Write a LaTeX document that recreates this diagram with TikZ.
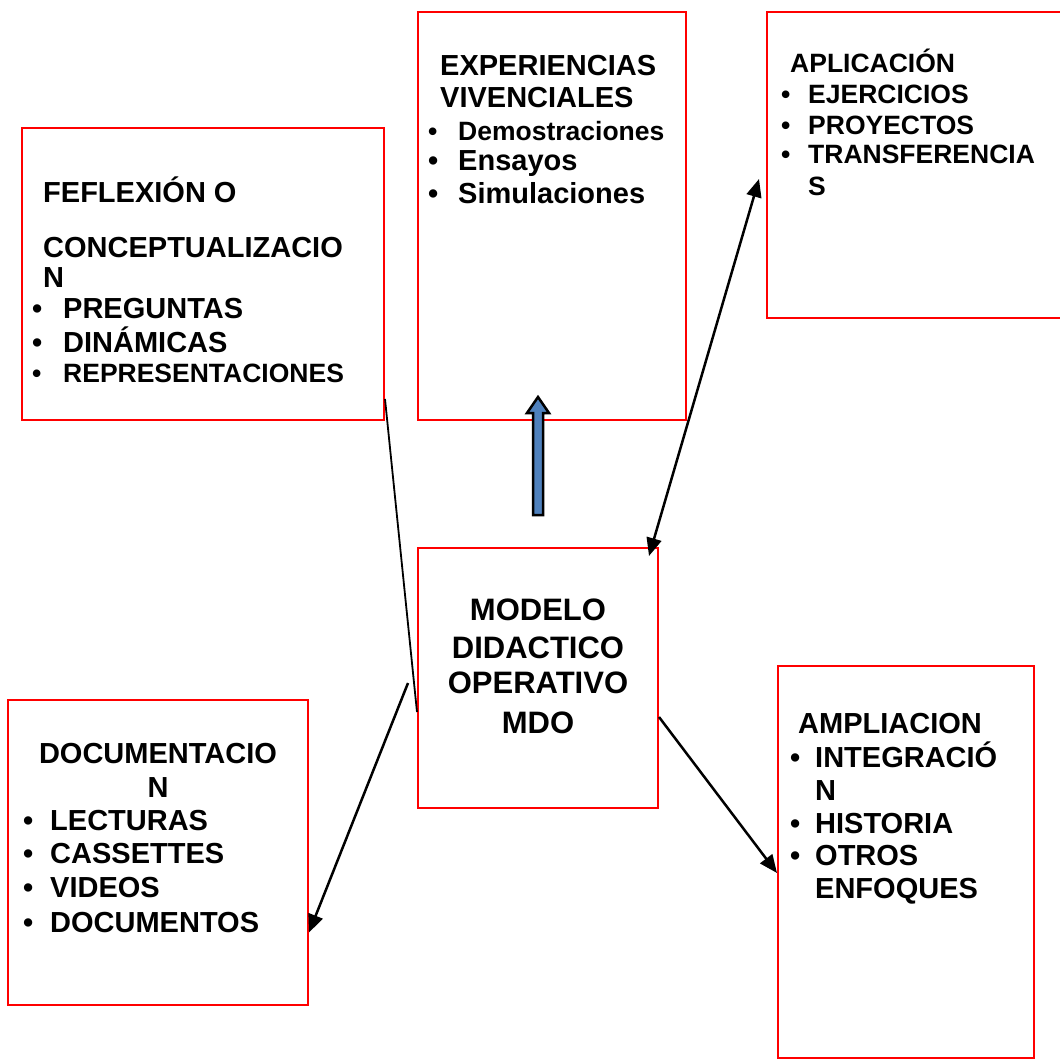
\documentclass[tikz,border=0pt]{standalone}
\usepackage{fontspec}
\setmainfont{Liberation Sans}
\usetikzlibrary{arrows.meta}
\definecolor{arrblue}{RGB}{79,129,189}
\begin{document}
\begin{tikzpicture}[x=1pt,y=-1pt,
		box/.style={draw=red,line width=2pt,inner sep=0pt},
		txt/.style={anchor=base west,inner sep=0pt},
		fbig/.style={font=\fontsize{29}{34}\selectfont\bfseries},
		fsmall/.style={font=\fontsize{26.5}{30}\selectfont\bfseries},
		fmdo/.style={font=\fontsize{31}{37}\selectfont\bfseries},
		conn/.style={line width=2.5pt,-{Triangle[length=18pt,width=15pt]}}]
		\useasboundingbox (0,0) rectangle (1060,1061);
		\clip (0,0) rectangle (1060,1061);
		% boxes
		\node[box,minimum width=362pt,minimum height=292pt] (refl) at (203,274) {};
		\node[box,minimum width=268pt,minimum height=408pt] (expe) at (552,216) {};
		\node[box,minimum width=308pt,minimum height=306pt] (apli) at (921,165) {};
		\node[box,minimum width=240pt,minimum height=260pt] (mdo) at (538,678) {};
		\node[box,minimum width=300pt,minimum height=305pt] (docu) at (158,852.5) {};
		\node[box,minimum width=256pt,minimum height=392pt] (ampl) at (906,862) {};
		% reflexion
		\node[txt,fbig] (refl-t1) at (43,202) {FEFLEXIÓN O};
		\node[txt,fbig] (refl-t2) at (43,257) {CONCEPTUALIZACIO};
		\node[txt,fbig] (refl-t3) at (43,287) {N};
		\foreach \t/\y/\f [count=\i] in {PREGUNTAS/318/fbig,DINÁMICAS/352/fbig,REPRESENTACIONES/382/fsmall}
		{\node[txt,\f] (refl-b\i) at (32,\y) {\textbullet};
		\node[txt,\f] (refl-\i) at (63,\y) {\t};}
		% experiencias
		\node[txt,fbig] (expe-t1) at (440,75) {EXPERIENCIAS};
		\node[txt,fbig] (expe-t2) at (440,107) {VIVENCIALES};
		\foreach \t/\y/\f [count=\i] in {Demostraciones/140/fsmall,Ensayos/170/fbig,Simulaciones/203/fbig}
		{\node[txt,\f] (expe-b\i) at (428,\y) {\textbullet};
		\node[txt,\f] (expe-\i) at (458,\y) {\t};}
		% aplicacion
		\node[txt,fsmall] (apli-t1) at (790,72) {APLICACIÓN};
		\foreach \t/\y [count=\i] in {EJERCICIOS/103,PROYECTOS/134,TRANSFERENCIA/163}
		{\node[txt,fsmall] (apli-b\i) at (781,\y) {\textbullet};
		\node[txt,fsmall] (apli-\i) at (808,\y) {\t};}
		\node[txt,fsmall] (apli-4) at (808,195) {S};
		% modelo
		\foreach \t/\y [count=\i] in {MODELO/620,DIDACTICO/658,OPERATIVO/693,MDO/733}
		\node[fmdo,anchor=base,inner sep=0pt] (mdo-\i) at (538,\y) {\t};
		% documentacion
		\node[fbig,anchor=base,inner sep=0pt] (docu-t1) at (158,763) {DOCUMENTACIO};
		\node[fbig,anchor=base,inner sep=0pt] (docu-t2) at (158,797) {N};
		\foreach \t/\y [count=\i] in {LECTURAS/830,CASSETTES/863,VIDEOS/897,DOCUMENTOS/932}
		{\node[txt,fbig] (docu-b\i) at (23,\y) {\textbullet};
		\node[txt,fbig] (docu-\i) at (50,\y) {\t};}
		% ampliacion
		\node[txt,fbig] (ampl-t1) at (798,733) {AMPLIACION};
		\foreach \t/\y [count=\i] in {INTEGRACIÓ/767,HISTORIA/833,OTROS/865}
		{\node[txt,fbig] (ampl-b\i) at (790,\y) {\textbullet};
		\node[txt,fbig] (ampl-\i) at (815,\y) {\t};}
		\node[txt,fbig] (ampl-4) at (815,800) {N};
		\node[txt,fbig] (ampl-5) at (815,898) {ENFOQUES};
		% connectors
		\draw[line width=1.8pt] ([yshift=22pt]refl.south east) -- ([yshift=-34pt]mdo.west);
		\draw[conn] ([xshift=-9pt,yshift=-5pt]mdo.west) -- ([yshift=-80pt]docu.east);
		\draw[conn,{Triangle[length=18pt,width=15pt]}-{Triangle[length=18pt,width=15pt]}] ([xshift=-10pt,yshift=-9pt]mdo.north east) -- ([xshift=-7pt,yshift=-14pt]apli.west);
		\draw[conn] ([yshift=-39pt]mdo.east) -- ([yshift=-11pt]ampl.west);
		% blue arrow
		\draw[fill=arrblue,line width=2.5pt] (533,515) -- (533,413) -- (527,413) -- (538,397) -- (549,413) -- (543,413) -- (543,515) -- cycle;
	\end{tikzpicture}
\end{document}
